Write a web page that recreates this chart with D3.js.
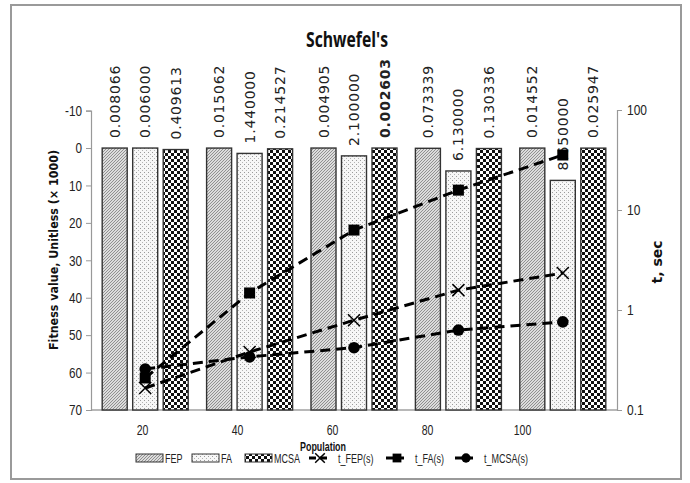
<!DOCTYPE html>
<html>
<head>
<meta charset="utf-8">
<script src="https://cdn.jsdelivr.net/npm/d3@7/dist/d3.min.js"></script>
<style>
  html, body { margin: 0; padding: 0; background: #fff; }
  svg { display: block; }
</style>
</head>
<body>
<svg id="chart" width="690" height="483"></svg>
<script>
// ---------------- data ----------------
const categories = ["20", "40", "60", "80", "100"];
const seriesNames = ["FEP", "FA", "MCSA"];
const fepValues  = [0.008066, 0.015062, 0.004905, 0.073339, 0.014552];
const faValues   = [0.006000, 1.440000, 2.100000, 6.130000, 8.650000];
const mcsaValues = [0.409613, 0.214527, 0.002603, 0.130336, 0.025947];
const tFEP  = [0.166, 0.38, 0.79, 1.58, 2.34];
const tFA   = [0.209, 1.48, 6.30, 15.8, 35.5];
const tMCSA = [0.257, 0.34, 0.42, 0.63, 0.76];
const leftTicks  = [-10, 0, 10, 20, 30, 40, 50, 60, 70];
const rightTicks = [0.1, 1, 10, 100];
const boldLabels = [["60", "MCSA"]];
const lineNames = ["t_FEP(s)", "t_FA(s)", "t_MCSA(s)"];

// ---------------- setup ----------------
const svg = d3.select("#chart");
const plot = { left: 91, right: 617, top: 110.6, bottom: 410 };
const NARROW = "Liberation Sans, Arial, sans-serif";

// squeeze text horizontally to mimic a condensed face
function narrow(sel, factor) {
  sel.each(function () {
    const l = this.getComputedTextLength();
    d3.select(this).attr("textLength", l * factor).attr("lengthAdjust", "spacingAndGlyphs");
  });
}

// outer frame
svg.append("rect").attr("x", 11).attr("y", 5).attr("width", 670).attr("height", 474)
  .attr("fill", "#fff").attr("stroke", "#9a9a9a").attr("stroke-width", 2);

// patterns
const defs = svg.append("defs");
const pFEP = defs.append("pattern").attr("id", "pFEP").attr("patternUnits", "userSpaceOnUse")
  .attr("width", 3).attr("height", 3);
pFEP.append("rect").attr("width", 3).attr("height", 3).attr("fill", "#dcdcdc");
pFEP.append("path").attr("d", "M0,3 L3,0 M-1,1 L1,-1 M2,4 L4,2").attr("stroke", "#888").attr("stroke-width", 0.9);

const pFA = defs.append("pattern").attr("id", "pFA").attr("patternUnits", "userSpaceOnUse")
  .attr("width", 4).attr("height", 4);
pFA.append("rect").attr("width", 4).attr("height", 4).attr("fill", "#f7f7f7");
pFA.append("rect").attr("x", 0).attr("y", 0).attr("width", 1).attr("height", 1).attr("fill", "#9a9a9a");
pFA.append("rect").attr("x", 2).attr("y", 2).attr("width", 1).attr("height", 1).attr("fill", "#b4b4b4");

const pMCSA = defs.append("pattern").attr("id", "pMCSA").attr("patternUnits", "userSpaceOnUse")
  .attr("width", 6).attr("height", 6);
pMCSA.append("rect").attr("width", 6).attr("height", 6).attr("fill", "#fff");
pMCSA.append("rect").attr("x", 0).attr("y", 0).attr("width", 3).attr("height", 3).attr("fill", "#111");
pMCSA.append("rect").attr("x", 3).attr("y", 3).attr("width", 3).attr("height", 3).attr("fill", "#111");

const fills = { FEP: "url(#pFEP)", FA: "url(#pFA)", MCSA: "url(#pMCSA)" };

// scales
const x0 = d3.scaleBand().domain(categories).range([93, 615]).padding(0);
const x1 = d3.scaleBand().domain(seriesNames).range([-45.75, 45.75]).paddingInner(0.18).paddingOuter(0.09);
const xLabel = d3.scalePoint().domain(categories).range([142, 522]);
const yL = d3.scaleLinear().domain([-10, 70]).range([plot.top, plot.bottom]);
const yR = d3.scaleLog().domain([0.1, 100]).range([plot.bottom, 110]);

// table
const valuesBySeries = { FEP: fepValues, FA: faValues, MCSA: mcsaValues };
const barData = [];
categories.forEach((c, i) => {
  seriesNames.forEach(s => barData.push({ cat: c, series: s, value: valuesBySeries[s][i] }));
});

// bottom axis line
svg.append("line").attr("x1", plot.left).attr("x2", plot.right)
  .attr("y1", yL(70)).attr("y2", yL(70)).attr("stroke", "#a0a0a0").attr("stroke-width", 1.5);

// bars
const cx = d => x0(d.cat) + x0.bandwidth() / 2 + x1(d.series) + x1.bandwidth() / 2;
svg.append("g").selectAll("rect").data(barData).join("rect")
  .attr("x", d => cx(d) - x1.bandwidth() / 2)
  .attr("width", x1.bandwidth())
  .attr("y", d => yL(d.value))
  .attr("height", d => yL(70) - yL(d.value))
  .attr("fill", d => fills[d.series])
  .attr("stroke", "#333").attr("stroke-width", 1.4);

// value labels
const isBold = d => boldLabels.some(b => b[0] === d.cat && b[1] === d.series);
svg.append("g").selectAll("text").data(barData).join("text")
  .attr("transform", d => `translate(${cx(d) + 5},${yL(d.value) - 10}) rotate(-90)`)
  .attr("text-anchor", "start")
  .attr("font-family", "DejaVu Sans, Verdana, sans-serif")
  .attr("font-size", 14)
  .attr("letter-spacing", 0.8)
  .attr("font-weight", d => isBold(d) ? "bold" : "normal")
  .attr("fill", "#222")
  .text(d => d.value.toFixed(6));

// left axis
const gL = svg.append("g").attr("transform", `translate(${plot.left},0)`)
  .call(d3.axisLeft(yL).tickValues(leftTicks).tickSize(5).tickPadding(4).tickFormat(d => String(d)));
gL.select(".domain").attr("stroke", "#999").attr("stroke-width", 1.2);
gL.selectAll(".tick line").attr("stroke", "#999");
gL.selectAll(".tick text").attr("font-family", NARROW).attr("font-size", 15).attr("fill", "#222")
  .call(narrow, 0.78);

// right axis
const gR = svg.append("g").attr("transform", `translate(${plot.right},0)`)
  .call(d3.axisRight(yR).tickValues(rightTicks).tickSize(5).tickPadding(5).tickFormat(d => String(d)));
gR.select(".domain").attr("stroke", "#999").attr("stroke-width", 1.2);
gR.selectAll(".tick line").attr("stroke", "#999");
gR.selectAll(".tick text").attr("font-family", NARROW).attr("font-size", 15).attr("fill", "#222")
  .call(narrow, 0.8);

// category labels
const gB = svg.append("g").attr("transform", `translate(0,${plot.bottom + 15})`)
  .call(d3.axisBottom(xLabel).tickSize(0).tickPadding(0));
gB.select(".domain").remove();
gB.selectAll(".tick text").attr("font-family", NARROW).attr("font-size", 14).attr("fill", "#222")
  .call(narrow, 0.75);

// lines
const lineGen = d3.line().x((d, i) => x0(categories[i]) + x0.bandwidth() / 2).y(d => yR(d));
const lineSeries = [
  { name: lineNames[0], values: tFEP, marker: "x" },
  { name: lineNames[1], values: tFA, marker: "square" },
  { name: lineNames[2], values: tMCSA, marker: "circle" }
];
function drawMarker(g, type, px, py, k) {
  k = k || 1;
  if (type === "square") {
    g.append("rect").attr("x", px - 5.5 * k).attr("y", py - 5.5 * k).attr("width", 11 * k).attr("height", 11 * k).attr("fill", "#000");
  } else if (type === "circle") {
    g.append("circle").attr("cx", px).attr("cy", py).attr("r", 5.8 * k).attr("fill", "#000");
  } else {
    const r = 6 * k;
    g.append("path").attr("d", `M${px - r},${py - r}L${px + r},${py + r}M${px - r},${py + r}L${px + r},${py - r}`)
      .attr("stroke", "#000").attr("stroke-width", 1.5);
  }
}
lineSeries.forEach(s => {
  svg.append("path").datum(s.values).attr("d", lineGen)
    .attr("fill", "none").attr("stroke", "#000").attr("stroke-width", 3)
    .attr("stroke-dasharray", "10,6");
});
lineSeries.forEach(s => {
  const g = svg.append("g");
  s.values.forEach((v, i) => drawMarker(g, s.marker, x0(categories[i]) + x0.bandwidth() / 2, yR(v)));
});

// title
svg.append("text").attr("x", 347).attr("y", 47).attr("text-anchor", "middle")
  .attr("font-family", "Open Sans, sans-serif").attr("font-weight", "bold").attr("font-size", 22)
  .attr("textLength", 82).attr("lengthAdjust", "spacingAndGlyphs")
  .attr("fill", "#111").text("Schwefel's");

// axis titles
svg.append("text").attr("transform", "translate(58,250) rotate(-90)").attr("text-anchor", "middle")
  .attr("font-family", "DejaVu Sans, Verdana, sans-serif").attr("font-weight", "bold").attr("font-size", 13)
  .attr("textLength", 200).attr("lengthAdjust", "spacingAndGlyphs")
  .attr("fill", "#111").text("Fitness value, Unitless (× 1000)");
svg.append("text").attr("transform", "translate(662,262) rotate(-90)").attr("text-anchor", "middle")
  .attr("font-family", "DejaVu Sans, Verdana, sans-serif").attr("font-weight", "bold").attr("font-size", 14)
  .attr("fill", "#111").text("t, sec");
svg.append("text").attr("x", 300).attr("y", 451).attr("text-anchor", "start")
  .attr("font-family", NARROW).attr("font-weight", "bold").attr("font-size", 12.5)
  .attr("textLength", 46).attr("lengthAdjust", "spacingAndGlyphs")
  .attr("fill", "#111").text("Population");

// legend
const legY = 458;
const legend = svg.append("g").attr("font-family", NARROW).attr("font-size", 12.5).attr("fill", "#222");
const barLeg = [ { s: "FEP", x: 136 }, { s: "FA", x: 192 }, { s: "MCSA", x: 245 } ];
barLeg.forEach(b => {
  legend.append("rect").attr("x", b.x).attr("y", legY - 4).attr("width", 27).attr("height", 8)
    .attr("fill", fills[b.s]).attr("stroke", "#333").attr("stroke-width", 1);
  legend.append("text").attr("x", b.x + 29).attr("y", legY + 5).text(b.s);
});
const lineLeg = [ { i: 0, x: 309 }, { i: 1, x: 386 }, { i: 2, x: 455 } ];
lineLeg.forEach(l => {
  const s = lineSeries[l.i];
  legend.append("line").attr("x1", l.x).attr("x2", l.x + 21).attr("y1", legY).attr("y2", legY)
    .attr("stroke", "#000").attr("stroke-width", 3).attr("stroke-dasharray", "7,4");
  drawMarker(legend, s.marker, l.x + 11, legY, 0.8);
  legend.append("text").attr("x", l.x + 29).attr("y", legY + 5).text(s.name);
});
legend.selectAll("text").call(narrow, 0.72);
</script>
</body>
</html>
